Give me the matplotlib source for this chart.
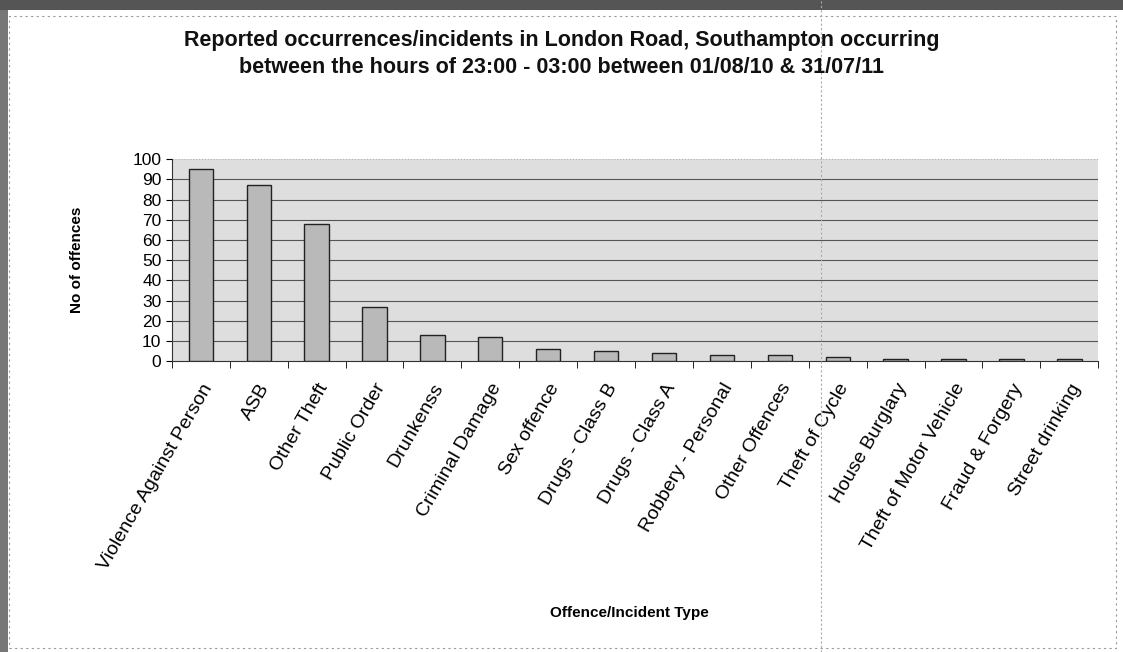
import numpy as np
import matplotlib.pyplot as plt
from matplotlib.patches import Rectangle
from matplotlib.lines import Line2D

categories = ['Violence Against Person', 'ASB', 'Other Theft', 'Public Order',
              'Drunkenss', 'Criminal Damage', 'Sex offence', 'Drugs - Class B',
              'Drugs - Class A', 'Robbery - Personal', 'Other Offences',
              'Theft of Cycle', 'House Burglary', 'Theft of Motor Vehicle',
              'Fraud & Forgery', 'Street drinking']
offences = [95, 87, 68, 27, 13, 12, 6, 5, 4, 3, 3, 2, 1, 1, 1, 1]
y_ticks = [0, 10, 20, 30, 40, 50, 60, 70, 80, 90, 100]

plt.rcParams['font.family'] = ['Liberation Sans', 'DejaVu Sans']

fig = plt.figure(figsize=(11.23, 6.52), dpi=100)
ax = fig.add_axes([0.153, 0.446, 0.825, 0.31])

x = np.arange(len(categories))
ax.set_facecolor('#dedede')
for yv in y_ticks[1:-1]:
    ax.axhline(yv, color='#555555', lw=0.8, zorder=1)
ax.axhline(100, color='#b0b0b0', lw=0.8, ls=':', zorder=1)
ax.bar(x, offences, width=0.42, color='#b9b9b9', edgecolor='#222222',
       linewidth=1.0, zorder=3)

ax.set_xlim(-0.5, len(categories) - 0.5)
ax.set_ylim(0, 100)
ax.set_yticks(y_ticks)
ax.tick_params(axis='y', labelsize=12.5, length=4, direction='out')
ax.set_xticks(x)
ax.set_xticklabels(categories, rotation=60, ha='right', rotation_mode='anchor',
                   fontsize=14)
ax.tick_params(axis='x', length=0, pad=14)
ax.set_xticks(np.arange(len(categories) + 1) - 0.5, minor=True)
ax.tick_params(axis='x', which='minor', length=5, direction='out')
for side in ['top', 'right']:
    ax.spines[side].set_visible(False)
ax.spines['left'].set_color('#333333')
ax.spines['bottom'].set_color('#333333')

ax.set_ylabel('No of offences', fontsize=11, fontweight='bold')
ax.yaxis.set_label_coords(-0.095, 0.5)

fig.text(0.5, 0.917, 'Reported occurrences/incidents in London Road, Southampton occurring\n'
         'between the hours of 23:00 - 03:00 between 01/08/10 & 31/07/11',
         ha='center', va='center', fontsize=15.5, fontweight='bold',
         linespacing=1.4, color='#111111')
fig.text(0.56, 0.06, 'Offence/Incident Type', ha='center', va='center',
         fontsize=11, fontweight='bold')

# scanned page border
fig.patches.append(Rectangle((0.008, 0.006), 0.986, 0.97, transform=fig.transFigure,
                             fill=False, edgecolor='#999999', lw=0.8, ls=(0, (2, 3))))
fig.patches.append(Rectangle((0, 0), 0.007, 1, transform=fig.transFigure,
                             facecolor='#777777', edgecolor='none'))
fig.patches.append(Rectangle((0, 0.985), 1, 0.015, transform=fig.transFigure,
                             facecolor='#555555', edgecolor='none'))
fig.lines.append(Line2D([0.731, 0.731], [0.0, 1.0], transform=fig.transFigure,
                        color='#aaaaaa', lw=0.8, ls=(0, (2, 2))))

fig.savefig('out.png', dpi=100)
